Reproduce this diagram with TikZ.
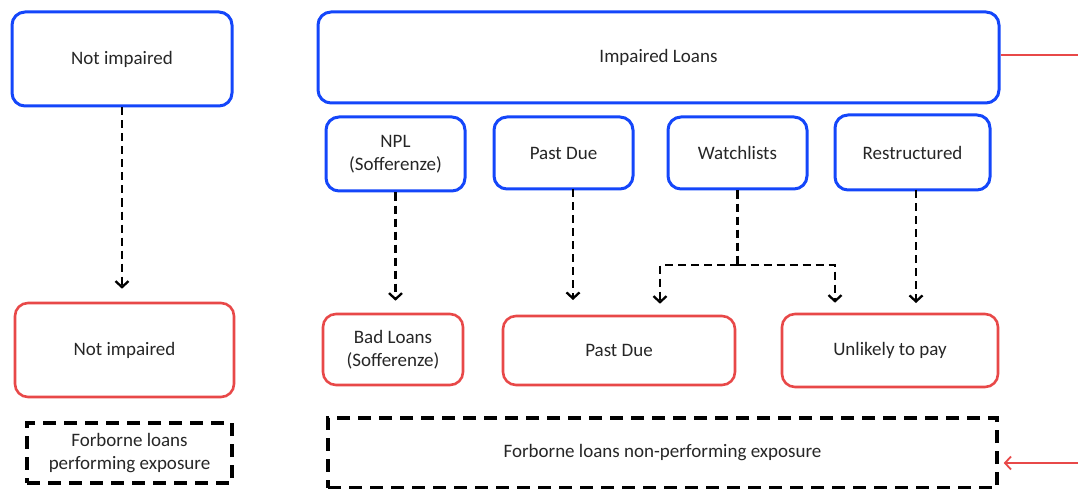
\documentclass[tikz,border=0pt]{standalone}
\usepackage{fontspec}
\setmainfont{Carlito}
\usetikzlibrary{arrows.meta}
\definecolor{bblue}{RGB}{20,70,250}
\definecolor{rred}{RGB}{232,72,72}
\begin{document}
\begin{tikzpicture}[x=1pt,y=-1pt,
  every node/.style={font=\fontsize{19}{23}\selectfont, text=black!85, align=center, inner sep=0pt},
  bluebox/.style={draw=bblue, line width=3pt, rounded corners=13pt},
  redbox/.style={draw=rred, line width=2.6pt, rounded corners=13pt},
  dbox/.style={draw=black, line width=3.5pt, dash pattern=on 13pt off 8pt},
  arr/.style={draw=black, line width=2.3pt, dash pattern=on 8pt off 5pt, -{Straight Barb[length=6pt,width=13pt,line width=2.3pt]}},
  darr/.style={draw=black, line width=2.3pt, dash pattern=on 8pt off 5pt},
  redline/.style={draw=rred, line width=1.8pt},
  redarrow/.style={draw=rred, line width=1.8pt, -{Straight Barb[length=6pt,width=13pt,line width=1.8pt]}}
]
\useasboundingbox (0,0) rectangle (1078,489);
% top row
\node[bluebox, minimum width=220pt, minimum height=94pt] (ni1) at (122,59) {Not impaired};
\node[bluebox, minimum width=681pt, minimum height=91pt] (il) at (658.5,57.5) {Impaired Loans};
\node[bluebox, minimum width=139pt, minimum height=74pt] (npl) at (395.5,154) {NPL\\(Sofferenze)};
\node[bluebox, minimum width=139pt, minimum height=72pt] (pd1) at (563.5,153) {Past Due};
\node[bluebox, minimum width=139pt, minimum height=72pt] (wl) at (737.5,153) {Watchlists};
\node[bluebox, minimum width=155pt, minimum height=75pt] (rs) at (912.5,152.5) {Restructured};
% bottom row
\node[redbox, minimum width=219pt, minimum height=94pt] (ni2) at (124.5,350) {Not impaired};
\node[redbox, minimum width=140pt, minimum height=71pt] (bl) at (393,349.5) {Bad Loans\\(Sofferenze)};
\node[redbox, minimum width=232pt, minimum height=69pt] (pd2) at (619,350.5) {Past Due};
\node[redbox, minimum width=216pt, minimum height=73pt] (up) at (890,350.5) {Unlikely to pay};
% forborne
\node[dbox, minimum width=205pt, minimum height=60pt] (fb1) at (129.5,453) {Forborne loans\\performing exposure};
\node[dbox, minimum width=669pt, minimum height=70pt] (fb2) at (662.5,453) {Forborne loans non-performing exposure};
% arrows
\draw[arr, shorten >=13pt] (ni1.south) -- (ni1.south |- ni2.north);
\draw[arr, shorten >=12pt] (npl.south) -- (npl.south |- bl.north);
\draw[arr, shorten >=16pt] (573,189) -- (573,316);
\coordinate (j) at (737.5,265);
\coordinate (jl) at (660,265);
\coordinate (jr) at (835,265);
\draw[darr] (wl.south) -- (j);
\draw[arr, shorten >=11pt] (j) -- (jl) -- (jl |- pd2.north);
\draw[arr, shorten >=10pt] (j) -- (jr) -- (jr |- up.north);
\draw[arr, shorten >=11pt] (916,190) -- (916,314);
% red connectors
\coordinate (re) at (1078,55);
\draw[redline] (il.east |- re) -- (re);
\coordinate (ra) at (1078,463);
\draw[redarrow, shorten >=5pt] (ra) -- (fb2.east |- ra);
\end{tikzpicture}
\end{document}
